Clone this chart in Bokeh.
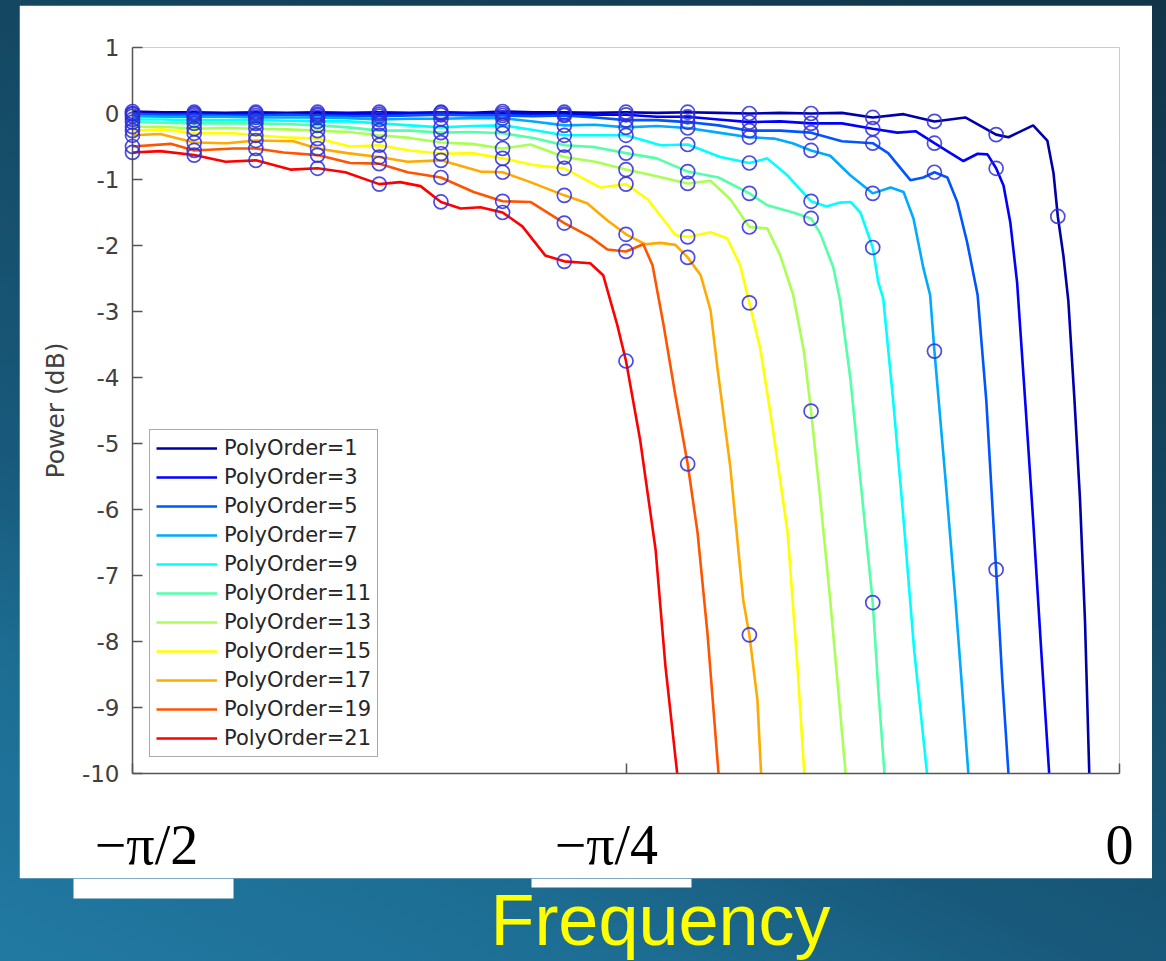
from bokeh.plotting import figure
from bokeh.layouts import column, row
from bokeh.models import Range1d, FixedTicker, BoxAnnotation, Label, Legend, LegendItem
from bokeh.embed import file_html
from bokeh.resources import INLINE

# x values are in frequency bins of pi/32 measured from -pi/2 (0 -> -pi/2, 8 -> -pi/4, 16 -> 0)
x_ticks = [0, 8, 16]
x_tick_labels = ["\u2002−π/2", "−π/4\u2002\u2009", "0"]
y_ticks = list(range(-10, 2))

orders = [1, 3, 5, 7, 9, 11, 13, 15, 17, 19, 21]
colors = ["#0000AA", "#0000FF", "#0055FF", "#00AAFF", "#00FFFF", "#55FFAA",
          "#AAFF55", "#FFFF00", "#FFAA00", "#FF5500", "#FF0000"]

x1 = [0, 0.5, 1, 1.5, 2, 2.5, 3, 3.5, 4, 4.5, 5, 5.5, 6, 6.5, 7, 7.5, 8, 8.5, 9, 9.5, 10, 10.5, 11, 11.5, 12, 12.5, 13, 13.5, 14,
      14.2, 14.6, 14.83, 14.93, 15, 15.09, 15.17, 15.27, 15.36, 15.44, 15.51, 15.6]
y1 = [0.03, 0.02, 0.02, 0.01, 0.02, 0.01, 0.02, 0.01, 0.02, 0.01, 0.02, 0.01, 0.03, 0.02, 0.02, 0.01, 0.02, 0.01, 0.02, 0.01, 0.0, 0.01, 0.0, 0.01, -0.06, -0.01, -0.12, -0.06, -0.32,
      -0.36, -0.18, -0.41, -0.90, -1.56, -2.15, -2.83, -4.34, -5.85, -7.67, -10.0, -12.0]

x3 = [0, 0.5, 1, 1.5, 2, 2.5, 3, 3.5, 4, 4.5, 5, 5.5, 6, 6.5, 7, 7.5, 8, 8.5, 9, 9.5, 10, 10.5, 11, 11.5, 12,
      12.4, 12.7, 13, 13.26, 13.47, 13.7, 13.86, 14, 14.12, 14.23, 14.34, 14.47, 14.6, 14.73, 14.86, 14.95]
y3 = [0.0, -0.01, 0.0, -0.01, 0.0, -0.01, -0.01, 0.0, -0.01, 0.0, 0.01, 0.0, 0.0, -0.01, -0.01, -0.02, -0.02, -0.05, -0.05, -0.09, -0.13, -0.12, -0.15, -0.15, -0.23,
      -0.29, -0.27, -0.45, -0.60, -0.72, -0.61, -0.62, -0.83, -1.09, -1.65, -2.56, -4.34, -6.16, -8.12, -10.0, -12.0]

x5 = [0, 0.5, 1, 1.5, 2, 2.5, 3, 3.5, 4, 4.5, 5, 5.5, 6, 6.5, 7, 7.5, 8, 8.5, 9, 9.5, 10, 10.5, 11, 11.5, 12,
      12.25, 12.61, 12.82, 13, 13.21, 13.37, 13.53, 13.7, 13.84, 14, 14.1, 14.2, 14.3]
y5 = [-0.01, -0.02, -0.02, -0.03, -0.03, -0.02, -0.03, -0.04, -0.04, -0.03, -0.02, -0.03, -0.03, -0.04, -0.03, -0.06, -0.10, -0.10, -0.13, -0.18, -0.26, -0.26, -0.29, -0.42, -0.45,
      -0.60, -1.01, -0.97, -0.89, -0.97, -1.34, -1.95, -2.75, -4.34, -6.91, -8.58, -10.0, -12.0]

x7 = [0, 0.5, 1, 1.5, 2, 2.5, 3, 3.5, 4, 4.5, 5, 5.5, 6, 6.5, 7, 7.5, 8, 8.5, 9, 9.5, 10,
      10.4, 10.7, 11, 11.31, 11.64, 12, 12.29, 12.5, 12.66, 12.82, 12.93, 13, 13.18, 13.34, 13.45, 13.55, 13.65]
y7 = [-0.04, -0.05, -0.05, -0.05, -0.06, -0.06, -0.06, -0.07, -0.09, -0.08, -0.08, -0.07, -0.07, -0.12, -0.18, -0.17, -0.21, -0.19, -0.22, -0.29, -0.36,
      -0.38, -0.45, -0.56, -0.64, -0.94, -1.21, -1.12, -1.19, -1.59, -2.34, -2.75, -3.60, -5.55, -7.37, -8.73, -10.0, -12.0]

x9 = [0, 0.5, 1, 1.5, 2, 2.5, 3, 3.5, 4, 4.5, 5, 5.5, 6, 6.5, 7, 7.5, 8,
      8.56, 9, 9.53, 10, 10.29, 10.62, 11, 11.25, 11.47, 11.64, 11.8, 12, 12.09, 12.17, 12.33, 12.5, 12.67, 12.88, 13]
y9 = [-0.09, -0.09, -0.10, -0.10, -0.10, -0.11, -0.12, -0.12, -0.15, -0.18, -0.21, -0.19, -0.18, -0.25, -0.33, -0.33, -0.33,
      -0.48, -0.47, -0.66, -0.75, -0.68, -0.94, -1.33, -1.41, -1.35, -1.34, -1.50, -2.03, -2.56, -2.80, -4.34, -6.16, -8.12, -10.0, -11.5]

x11 = [0, 0.5, 1, 1.5, 2, 2.5, 3, 3.5, 4, 4.5, 5, 5.5, 6, 6.5, 7, 7.5, 8, 8.5, 9, 9.5, 10,
       10.29, 10.71, 11, 11.15, 11.36, 11.47, 11.64, 11.8, 11.93, 12, 12.09, 12.19, 12.3]
y11 = [-0.13, -0.14, -0.15, -0.15, -0.15, -0.16, -0.18, -0.21, -0.26, -0.26, -0.29, -0.28, -0.30, -0.37, -0.48, -0.51, -0.60, -0.68, -0.88, -0.97, -1.21,
       -1.39, -1.50, -1.59, -1.82, -2.33, -2.83, -4.04, -5.55, -6.76, -7.41, -8.73, -10.0, -11.5]

x13 = [0, 0.5, 1, 1.5, 2, 2.5, 3, 3.5, 4, 4.5, 5, 5.5, 6,
       6.45, 7, 7.5, 8, 8.5, 9, 9.37, 9.69, 10, 10.29, 10.5, 10.71, 10.88, 11, 11.15, 11.31, 11.44, 11.56, 11.7]
y13 = [-0.20, -0.20, -0.23, -0.22, -0.23, -0.24, -0.26, -0.28, -0.33, -0.37, -0.44, -0.46, -0.53,
       -0.47, -0.66, -0.73, -0.85, -0.95, -1.06, -1.02, -1.30, -1.72, -1.74, -2.15, -2.75, -3.58, -4.51, -5.85, -7.37, -8.73, -10.0, -11.5]

x15 = [0, 0.5, 1, 1.64, 2, 2.45, 3, 3.53, 4, 4.5, 5, 5.5, 6, 6.5, 7, 7.58, 8, 8.35, 8.8, 9,
       9.37, 9.64, 9.85, 10, 10.18, 10.39, 10.62, 10.78, 10.89, 11]
y15 = [-0.26, -0.24, -0.30, -0.30, -0.33, -0.36, -0.38, -0.50, -0.48, -0.56, -0.61, -0.60, -0.68, -0.78, -0.83, -1.12, -1.07, -1.30, -1.84, -1.87,
       -1.80, -1.89, -2.30, -2.87, -3.58, -4.84, -6.35, -8.38, -10.0, -11.5]

x17 = [0, 0.45, 1, 1.53, 2, 2.61, 3, 3.48, 4, 4.46, 5, 5.64, 6, 6.45, 7, 7.37, 7.70, 8, 8.31, 8.56,
       8.80, 9, 9.21, 9.37, 9.48, 9.69, 9.90, 10, 10.13, 10.19, 10.3]
y17 = [-0.33, -0.31, -0.44, -0.45, -0.41, -0.42, -0.53, -0.60, -0.66, -0.73, -0.71, -0.88, -0.89, -1.04, -1.24, -1.36, -1.62, -1.83, -1.98, -1.96,
       -1.99, -2.18, -2.45, -2.98, -3.84, -5.35, -7.37, -7.90, -8.88, -10.0, -11.5]

x19 = [0, 0.62, 1, 1.64, 2, 2.45, 3, 3.53, 4, 4.46, 5, 5.53, 6, 6.45, 7, 7.42, 7.70, 8, 8.28, 8.43,
       8.61, 8.80, 9, 9.16, 9.32, 9.50, 9.6]
y19 = [-0.50, -0.46, -0.56, -0.53, -0.53, -0.59, -0.63, -0.75, -0.76, -0.89, -0.97, -1.19, -1.33, -1.34, -1.66, -1.87, -2.06, -2.09, -1.98, -2.30,
       -3.21, -4.27, -5.31, -6.35, -7.87, -10.0, -11.5]

x21 = [0, 0.45, 1, 1.51, 2, 2.56, 3, 3.45, 4, 4.34, 4.67, 5, 5.32, 5.64, 6, 6.32, 6.69, 7, 7.42, 7.63,
       7.86, 8, 8.23, 8.48, 8.64, 8.83, 9.0]
y21 = [-0.59, -0.57, -0.63, -0.73, -0.71, -0.85, -0.83, -0.89, -1.07, -1.04, -1.10, -1.34, -1.44, -1.42, -1.50, -1.71, -2.15, -2.24, -2.27, -2.45,
       -3.21, -3.75, -4.95, -6.61, -8.38, -10.0, -11.5]

series = [(x1, y1), (x3, y3), (x5, y5), (x7, y7), (x9, y9), (x11, y11),
          (x13, y13), (x15, y15), (x17, y17), (x19, y19), (x21, y21)]

gradient = ("linear-gradient(25deg, #2179a2 0%, #1d6d93 20%, #18597b 34%, "
            "#16506d 50%, #144660 65%, #113448 100%)")

# ---- main chart (white panel) ----
p = figure(frame_width=987, frame_height=727,
           min_border_left=113, min_border_right=33, min_border_top=42, min_border_bottom=104,
           x_range=Range1d(0, 16), y_range=Range1d(-10, 1),
           output_backend="svg", toolbar_location=None,
           border_fill_color="white", background_fill_color="white")
p.margin = (5, 0, 0, 19)
p.outline_line_color = None
p.grid.visible = False

items = []
cx, cy = [], []
for n, c, (xs, ys) in zip(orders, colors, series):
    r = p.line(xs, ys, line_color=c, line_width=2.6)
    items.append(LegendItem(label=f"PolyOrder={n}", renderers=[r]))
    for xv, yv in zip(xs, ys):
        if float(xv).is_integer() and yv >= -10:
            cx.append(xv)
            cy.append(yv)

p.scatter(cx, cy, marker="circle", size=14, fill_color=None,
          line_color="#2b2bdc", line_width=1.7, line_alpha=0.85, level="overlay")

axis_gray = "#555555"
text_gray = "#404040"

yax = p.yaxis[0]
yax.ticker = FixedTicker(ticks=y_ticks)
yax.major_label_overrides = {t: str(t) for t in y_ticks}
yax.major_tick_in = 10
yax.major_tick_out = 0
yax.minor_tick_in = 0
yax.minor_tick_out = 0
yax.axis_line_color = axis_gray
yax.axis_line_width = 1.5
yax.major_tick_line_color = axis_gray
yax.major_tick_line_width = 1.5
yax.major_label_text_font = "DejaVu Sans"
yax.major_label_text_font_size = "23px"
yax.major_label_text_color = text_gray
yax.major_label_standoff = 13
yax.axis_label = "Power (dB)"
yax.axis_label_text_font = "DejaVu Sans"
yax.axis_label_text_font_size = "25px"
yax.axis_label_text_font_style = "normal"
yax.axis_label_text_color = text_gray
yax.axis_label_standoff = 9

xax = p.xaxis[0]
xax.ticker = FixedTicker(ticks=x_ticks)
xax.major_label_overrides = dict(zip(x_ticks, x_tick_labels))
xax.major_label_text_font = "Liberation Serif"
xax.major_label_text_font_size = "56px"
xax.major_label_text_color = "black"
xax.major_label_standoff = 40
xax.major_tick_in = 10
xax.major_tick_out = 0
xax.minor_tick_in = 0
xax.minor_tick_out = 0
xax.axis_line_color = axis_gray
xax.axis_line_width = 1.5
xax.major_tick_line_color = axis_gray
xax.major_tick_line_width = 1.5

legend = Legend(items=items, location=(17, 16), glyph_width=61, glyph_height=20,
                label_height=20, spacing=5, padding=6, margin=0, label_standoff=7,
                border_line_color="#555555", border_line_width=1.5,
                background_fill_color="white", background_fill_alpha=1.0,
                label_text_font="DejaVu Sans", label_text_font_size="21px",
                label_text_color="#262626")
p.add_layout(legend)

# ---- strip below the panel with the axis title ----
q = figure(width=1166, height=83, x_range=Range1d(0, 1166), y_range=Range1d(83, 0),
           x_axis_type=None, y_axis_type=None, output_backend="svg", toolbar_location=None,
           min_border=0, border_fill_alpha=0, background_fill_alpha=0)
q.outline_line_color = None
q.grid.visible = False
for l, r_, t, b in [(73, 233, 0, 20), (531, 691, 0, 9)]:
    q.add_layout(BoxAnnotation(left=l, right=r_, top=t, bottom=b,
                               fill_color="white", fill_alpha=1.0, line_color=None))
q.add_layout(Label(x=660, y=41, text="Frequency", text_font="Liberation Sans",
                   text_font_size="72px", text_align="center", text_baseline="alphabetic",
                   text_color="#FFFF00"))

page = column(p, row(q, width=1166, height=83), width=1166, height=961, spacing=0,
              styles={"background": gradient})

open("out.html", "w").write(file_html(page, INLINE))
